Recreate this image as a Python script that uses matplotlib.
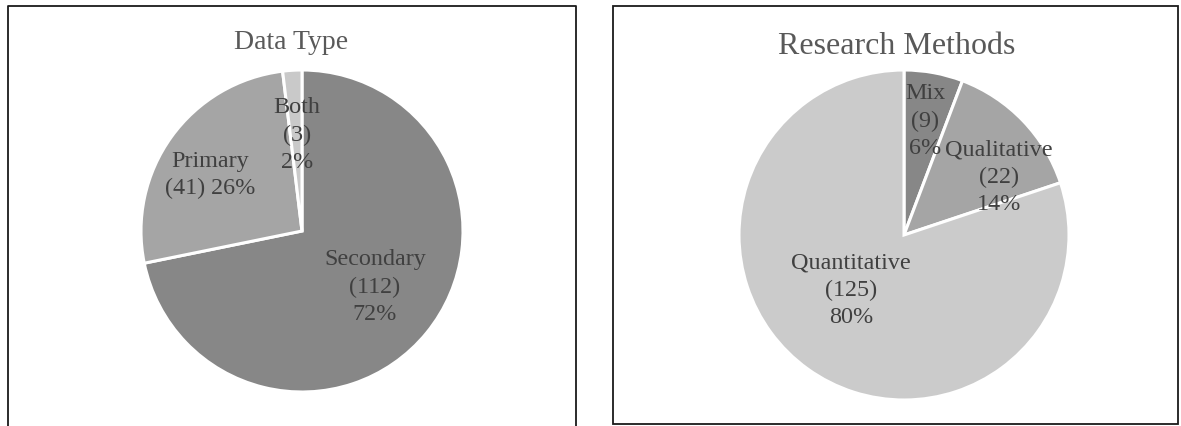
import matplotlib
matplotlib.use("Agg")
import matplotlib.pyplot as plt
from matplotlib.patches import Rectangle
from matplotlib.lines import Line2D

# ---- data ----
dt_labels = ["Secondary", "Primary", "Both"]
dt_values = [112, 41, 3]
dt_pcts = ["72%", "26%", "2%"]
dt_colors = ["#878787", "#a5a5a5", "#c9c9c9"]

rm_labels = ["Mix", "Qualitative", "Quantitative"]
rm_values = [9, 22, 125]
rm_pcts = ["6%", "14%", "80%"]
rm_colors = ["#878787", "#a5a5a5", "#cbcbcb"]

W, H = 1181, 426
fig = plt.figure(figsize=(W / 100, H / 100), dpi=100)
ax = fig.add_axes([0, 0, 1, 1])

FONT = "Liberation Serif"
TXT = "#404040"
TITLE = "#595959"
LBL_SIZE = 17.4
LS = 1.37

def Y(y):
    return H - y

# panel borders
bc = "#1a1a1a"
ax.add_line(Line2D([8, 8, 576, 576], [Y(430), Y(6), Y(6), Y(430)], color=bc, lw=1.3))
ax.add_patch(Rectangle((613, Y(424)), 1178 - 613, 424 - 6, fill=False, ec=bc, lw=1.3))

# pies
ax.pie(dt_values, colors=dt_colors, startangle=90, counterclock=False,
       center=(302, Y(231)), radius=161,
       wedgeprops=dict(edgecolor="white", linewidth=2.2))
ax.pie(rm_values, colors=rm_colors, startangle=90, counterclock=False,
       center=(904, Y(235)), radius=165,
       wedgeprops=dict(edgecolor="white", linewidth=2.2))

# titles
ax.text(291, Y(49), "Data Type", ha="center", va="baseline", family=FONT,
        fontsize=20, color=TITLE)
ax.text(897, Y(54), "Research Methods", ha="center", va="baseline", family=FONT,
        fontsize=23, color=TITLE)

# data labels
dt_text = [
    f"{dt_labels[0]}\n({dt_values[0]})\n{dt_pcts[0]}",
    f"{dt_labels[1]}\n({dt_values[1]}) {dt_pcts[1]}",
    f"{dt_labels[2]}\n({dt_values[2]})\n{dt_pcts[2]}",
]
dt_pos = [(375, 287), (210, 175), (297, 135)]
for t, (x, y) in zip(dt_text, dt_pos):
    ax.text(x, Y(y), t, ha="center", va="center", multialignment="center",
            family=FONT, fontsize=LBL_SIZE, color=TXT, linespacing=LS)

rm_text = [f"{l}\n({v})\n{p}" for l, v, p in zip(rm_labels, rm_values, rm_pcts)]
rm_pos = [(925, 121), (999, 177), (851, 290)]
for t, (x, y) in zip(rm_text, rm_pos):
    ax.text(x, Y(y), t, ha="center", va="center", multialignment="center",
            family=FONT, fontsize=LBL_SIZE, color=TXT, linespacing=LS)

ax.set_xlim(0, W)
ax.set_ylim(0, H)
ax.set_aspect("auto")
ax.axis("off")

fig.savefig("out.png", dpi=100, facecolor="white")
